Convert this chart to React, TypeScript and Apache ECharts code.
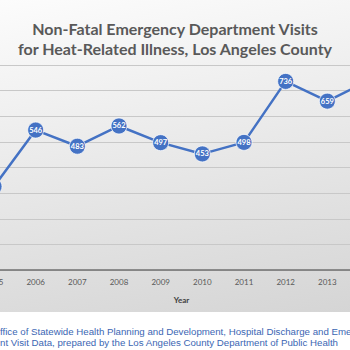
import React, { useEffect, useRef } from "react";
import * as echarts from "echarts";

const years = ["2005", "2006", "2007", "2008", "2009", "2010", "2011", "2012", "2013", "2014"];
const visits = [326, 546, 483, 562, 497, 453, 498, 736, 659, 740];
const titleLines = ["Non-Fatal Emergency Department Visits", "for Heat-Related Illness, Los Angeles County"];
const sourceLines = [
  "ffice of Statewide Health Planning and Development, Hospital Discharge and Eme",
  "nt Visit Data, prepared by the Los Angeles County Department of Public Health",
];

const PAD = 40;

export default function App() {
  const ref = useRef<HTMLDivElement>(null);
  useEffect(() => {
    if (!ref.current) return;
    const chart = echarts.init(ref.current, null, { renderer: "svg" });
    const last = visits.length - 1;
    chart.setOption({
      animation: false,
      title: {
        text: titleLines.join("\n"),
        left: "center",
        top: 13,
        textStyle: {
          fontFamily: "Lato",
          fontWeight: "bold",
          fontSize: 16,
          lineHeight: 20,
          color: "#595959",
        },
      },
      grid: { left: PAD - 6, right: PAD + 350 - 369, top: 65, bottom: 80, containLabel: false },
      xAxis: {
        type: "category",
        data: years,
        boundaryGap: false,
        axisLine: { lineStyle: { color: "#6f6f6f", width: 1.5 } },
        axisTick: { show: false },
        axisLabel: {
          color: "#595959",
          fontSize: 8,
          fontFamily: "Lato",
          margin: 8,
          interval: (i: number) => i !== last,
        },
        name: "Year",
        nameLocation: "middle",
        nameGap: 26,
        nameTextStyle: { color: "#404040", fontSize: 8, fontWeight: "bold", fontFamily: "Lato" },
      },
      yAxis: {
        type: "value",
        min: 0,
        max: 800,
        interval: 100,
        axisLabel: { show: false },
        axisLine: { show: false },
        axisTick: { show: false },
        splitLine: { lineStyle: { color: "#c8c8c8", width: 1 } },
      },
      series: [
        {
          type: "line",
          data: visits.map((v, i) => (i === 0 || i === last ? { value: v, label: { show: false } } : v)),
          symbol: "circle",
          symbolSize: 16,
          lineStyle: { color: "#4472C4", width: 2.5 },
          itemStyle: { color: "#4472C4", borderColor: "rgba(255,255,255,0.7)", borderWidth: 1 },
          label: {
            show: true,
            position: "inside",
            color: "#ffffff",
            fontSize: 7.5,
            fontWeight: "bold",
            fontFamily: "Lato",
          },
        },
      ],
      graphic: sourceLines.map((t, i) => ({
        type: "text",
        left: PAD,
        top: 326 + i * 11,
        style: {
          text: t,
          fill: "#3b66b3",
          fontSize: 9.7,
          fontFamily: "Liberation Sans",
        },
      })),
    });
    return () => chart.dispose();
  }, []);
  return (
    <div style={{ position: "fixed", left: 0, top: 0, width: 350, height: 350, background: "#ffffff", overflow: "hidden" }}>
      <div
        style={{
          position: "absolute",
          left: 0,
          top: 0,
          width: 350,
          height: 312,
          background: "linear-gradient(170deg, #fcfcfc 0%, #d5d5d5 100%)",
        }}
      />
      <div ref={ref} style={{ position: "absolute", left: -PAD, top: 0, width: 350 + 2 * PAD, height: 350 }} />
    </div>
  );
}
